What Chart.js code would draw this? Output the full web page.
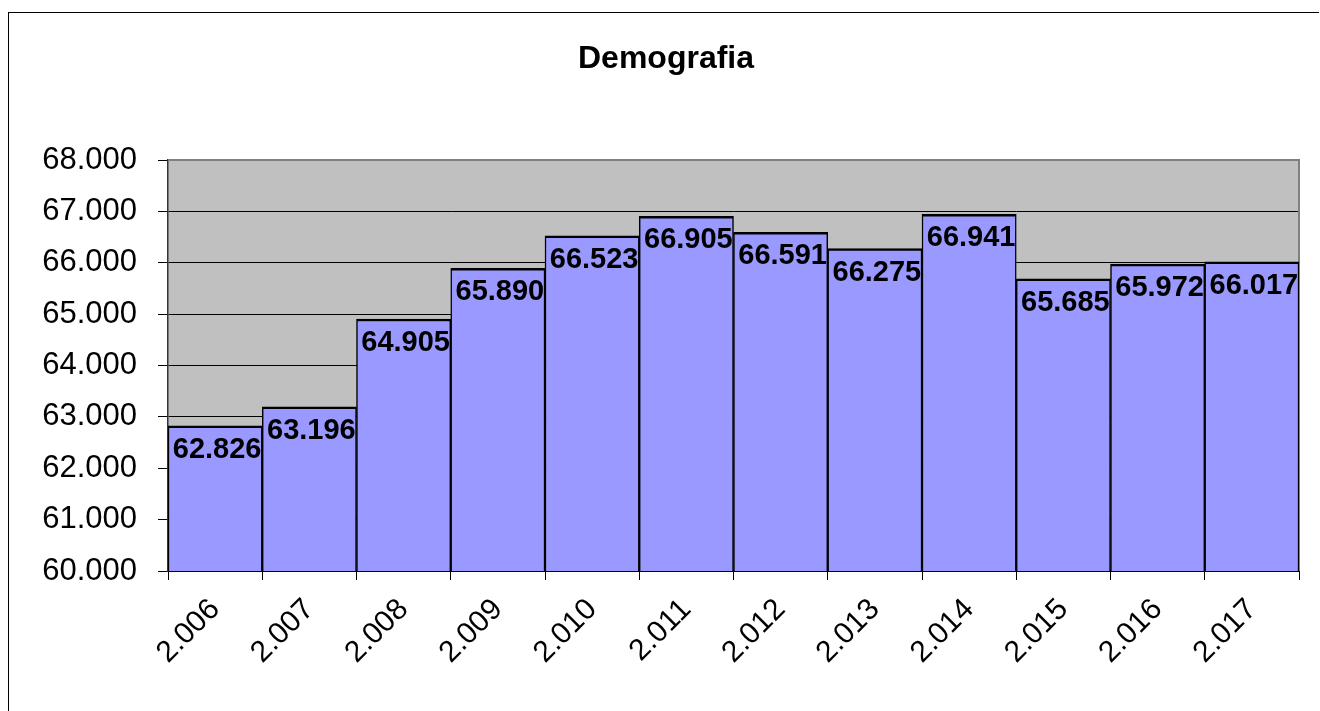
<!DOCTYPE html>
<html>
<head>
<meta charset="utf-8">
<title>Demografia</title>
<script src="https://cdn.jsdelivr.net/npm/chart.js@4"></script>
<style>
  html, body { margin: 0; padding: 0; background: #fff; overflow: hidden; width: 1320px; height: 711px; }
  .frame-top { position: absolute; left: 8px; top: 12px; width: 1311px; height: 1px; background: #000; }
  .frame-left { position: absolute; left: 8px; top: 12px; width: 1px; height: 699px; background: #000; }
  #demografiaChart { position: absolute; left: 0; top: 0; }
</style>
</head>
<body>
<div class="frame-top"></div>
<div class="frame-left"></div>
<canvas id="demografiaChart" width="1320" height="711"></canvas>
<script>
const years = ['2.006', '2.007', '2.008', '2.009', '2.010', '2.011', '2.012', '2.013', '2.014', '2.015', '2.016', '2.017'];
const population = [62826, 63196, 64905, 65890, 66523, 66905, 66591, 66275, 66941, 65685, 65972, 66017];
const yMin = 60000;
const yMax = 68000;
const yStep = 1000;

const FONT = "'Liberation Sans', Arial, sans-serif";

// 62826 -> "62.826"
const fmt = (n) => String(Math.round(n)).replace(/\B(?=(\d{3})+(?!\d))/g, '.');

// gray plot area, gray top/right edge, title
const plotBackground = {
  id: 'plotBackground',
  beforeDraw(chart) {
    const { ctx, chartArea: a } = chart;
    ctx.save();
    ctx.fillStyle = '#C0C0C0';
    ctx.fillRect(a.left, a.top, a.right - a.left, a.bottom - a.top);
    ctx.fillStyle = '#000';
    ctx.font = `bold 32px ${FONT}`;
    ctx.textAlign = 'center';
    ctx.textBaseline = 'middle';
    ctx.fillText('Demografia', 666, 59);
    ctx.restore();
  },
  beforeDatasetsDraw(chart) {
    const { ctx, chartArea: a } = chart;
    ctx.save();
    ctx.strokeStyle = '#808080';
    ctx.lineWidth = 2;
    ctx.beginPath();
    ctx.moveTo(a.left, a.top);
    ctx.lineTo(a.right, a.top);
    ctx.lineTo(a.right, a.bottom);
    ctx.stroke();
    ctx.restore();
  },
};

// value labels just inside the top of each bar
const barLabels = {
  id: 'barLabels',
  afterDatasetsDraw(chart) {
    const { ctx } = chart;
    const meta = chart.getDatasetMeta(0);
    ctx.save();
    ctx.fillStyle = '#000';
    ctx.font = `bold 29px ${FONT}`;
    ctx.textAlign = 'center';
    ctx.textBaseline = 'middle';
    meta.data.forEach((bar, i) => {
      ctx.fillText(fmt(population[i]), bar.x + 2, bar.y + 24);
    });
    ctx.restore();
  },
};

new Chart(document.getElementById('demografiaChart'), {
  type: 'bar',
  data: {
    labels: years,
    datasets: [{
      data: population,
      backgroundColor: '#9999FF',
      borderColor: '#000',
      borderWidth: { top: 2.5, left: 1.5, right: 1.5, bottom: 0 },
      borderSkipped: 'start',
      barPercentage: 1,
      categoryPercentage: 1,
    }],
  },
  options: {
    responsive: false,
    animation: false,
    layout: { padding: { top: 160, right: 21, left: 0, bottom: 0 } },
    plugins: {
      legend: { display: false },
      title: { display: false },
      tooltip: { enabled: false },
    },
    scales: {
      x: {
        offset: true,
        grid: {
          offset: true,
          drawOnChartArea: false,
          drawTicks: true,
          tickLength: 9,
          tickColor: '#000',
          tickWidth: 1,
        },
        border: { color: '#000', width: 2 },
        ticks: {
          color: '#000',
          font: { family: FONT, size: 30 },
          maxRotation: 45,
          minRotation: 45,
          padding: 12,
        },
        afterFit(scale) { scale.height = 140; },
      },
      y: {
        min: yMin,
        max: yMax,
        grid: {
          color: (c) => (c.tick && c.tick.value === yMax ? 'rgba(0,0,0,0)' : '#000'),
          lineWidth: 1,
          tickLength: 10,
          tickColor: '#000',
          tickWidth: 1,
        },
        border: { color: '#333', width: 1.5 },
        ticks: {
          stepSize: yStep,
          color: '#000',
          font: { family: FONT, size: 31 },
          padding: 21,
          callback: (v) => fmt(v),
        },
        afterFit(scale) { scale.width = 168; },
      },
    },
  },
  plugins: [plotBackground, barLabels],
});
</script>
</body>
</html>
